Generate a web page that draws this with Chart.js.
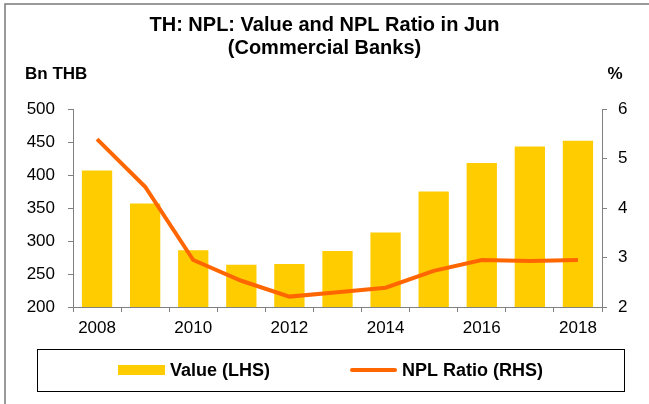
<!DOCTYPE html>
<html>
<head>
<meta charset="utf-8">
<script src="https://cdn.jsdelivr.net/npm/chart.js@4.4.1/dist/chart.umd.min.js"></script>
<style>
  html, body { margin: 0; padding: 0; background: #fff; }
  #wrap { width: 649px; height: 404px; position: relative; }
</style>
</head>
<body>
<div id="wrap"><canvas id="nplChart"></canvas></div>
<script>
const years = ['2008', '2009', '2010', '2011', '2012', '2013', '2014', '2015', '2016', '2017', '2018'];
const nplValue = [407, 357, 286, 264, 265, 285, 313, 375, 418, 443, 452];
const nplRatio = [5.39, 4.43, 2.95, 2.53, 2.21, 2.30, 2.39, 2.73, 2.95, 2.93, 2.95];
const seriesNames = ['Value (LHS)', 'NPL Ratio (RHS)'];

const FONT = 'Arial, "Liberation Sans", sans-serif';
const AXIS_GREY = '#808080';

// frame, unit labels and the boxed legend under the chart
const extras = {
    id: 'extras',
    beforeDraw(chart) {
        const ctx = chart.ctx;
        ctx.save();
        ctx.strokeStyle = '#7a7a7a';
        ctx.lineWidth = 1.5;
        ctx.beginPath();
        ctx.moveTo(5, 404);
        ctx.lineTo(5, 4);
        ctx.lineTo(649, 4);
        ctx.stroke();
        ctx.restore();
    },
    afterDraw(chart) {
        const ctx = chart.ctx;
        ctx.save();
        ctx.fillStyle = '#000';
        ctx.font = 'bold 17px ' + FONT;
        ctx.textBaseline = 'middle';
        ctx.textAlign = 'left';
        ctx.fillText('Bn THB', 25, 74);
        ctx.textAlign = 'center';
        ctx.fillText('%', 615, 74);

        // legend box
        const box = { left: 37, top: 349, right: 624, bottom: 391 };
        ctx.strokeStyle = '#000';
        ctx.lineWidth = 1;
        ctx.strokeRect(box.left + 0.5, box.top + 0.5, box.right - box.left, box.bottom - box.top);

        const swatchW = 47, gap = 5, itemGap = 80;
        ctx.font = 'bold 18px ' + FONT;
        const widths = seriesNames.map(t => swatchW + gap + ctx.measureText(t).width);
        const total = widths.reduce((a, b) => a + b, 0) + itemGap * (widths.length - 1);
        let x = (box.left + box.right) / 2 - total / 2;
        const cy = (box.top + box.bottom) / 2;
        chart.data.datasets.forEach((ds, i) => {
            if (ds.type === 'line') {
                ctx.strokeStyle = ds.borderColor;
                ctx.lineWidth = 4;
                ctx.lineCap = 'round';
                ctx.beginPath();
                ctx.moveTo(x + 2, cy);
                ctx.lineTo(x + swatchW - 2, cy);
                ctx.stroke();
            } else {
                ctx.fillStyle = ds.backgroundColor;
                ctx.fillRect(x, cy - 5, swatchW, 10);
            }
            ctx.fillStyle = '#000';
            ctx.textAlign = 'left';
            ctx.fillText(ds.label, x + swatchW + gap, cy + 1);
            x += widths[i] + itemGap;
        });
        ctx.restore();
    }
};

const ctx = document.getElementById('nplChart');

new Chart(ctx, {
    type: 'bar',
    data: {
        labels: years,
        datasets: [
            {
                label: seriesNames[0],
                data: nplValue,
                backgroundColor: '#FFCC00',
                borderWidth: 0,
                yAxisID: 'y',
                categoryPercentage: 1.0,
                barPercentage: 0.63,
                order: 1
            },
            {
                type: 'line',
                label: seriesNames[1],
                data: nplRatio,
                borderColor: '#FF6600',
                backgroundColor: '#FF6600',
                borderWidth: 4,
                pointRadius: 0,
                tension: 0,
                yAxisID: 'y1',
                order: 0
            }
        ]
    },
    options: {
        responsive: true,
        maintainAspectRatio: false,
        animation: false,
        layout: {
            padding: { left: 0, right: 0, top: 6, bottom: 67 }
        },
        plugins: {
            legend: { display: false },
            tooltip: { enabled: false },
            title: {
                display: true,
                text: ['TH: NPL: Value and NPL Ratio in Jun', '(Commercial Banks)'],
                color: '#000',
                font: { family: FONT, size: 20, weight: 'bold', lineHeight: 1.15 },
                padding: { top: 8, bottom: 49 }
            }
        },
        scales: {
            x: {
                offset: true,
                grid: {
                    offset: true,
                    drawOnChartArea: false,
                    drawTicks: true,
                    tickLength: 5,
                    color: AXIS_GREY
                },
                border: { color: AXIS_GREY, width: 1 },
                ticks: {
                    autoSkip: false,
                    maxRotation: 0,
                    color: '#000',
                    padding: 6,
                    font: { family: FONT, size: 17 },
                    callback: (val, i) => (i % 2 === 0 ? years[i] : '')
                },
                afterFit: (scale) => { scale.height = 30; }
            },
            y: {
                position: 'left',
                min: 200,
                max: 500,
                grid: {
                    drawOnChartArea: false,
                    drawTicks: true,
                    tickLength: 5,
                    color: AXIS_GREY
                },
                border: { color: AXIS_GREY, width: 1 },
                ticks: {
                    stepSize: 50,
                    color: '#000',
                    padding: 13,
                    font: { family: FONT, size: 17 }
                },
                afterFit: (scale) => { scale.width = 73; }
            },
            y1: {
                position: 'right',
                min: 2,
                max: 6,
                grid: {
                    drawOnChartArea: false,
                    drawTicks: true,
                    tickLength: 5,
                    color: AXIS_GREY
                },
                border: { color: AXIS_GREY, width: 1 },
                ticks: {
                    stepSize: 1,
                    color: '#000',
                    padding: 11,
                    font: { family: FONT, size: 17 }
                },
                afterFit: (scale) => { scale.width = 47; }
            }
        }
    },
    plugins: [extras]
});
</script>
</body>
</html>
